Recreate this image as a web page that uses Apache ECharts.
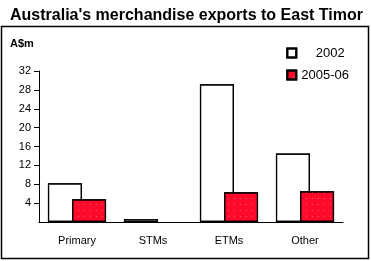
<!DOCTYPE html>
<html><head><meta charset="utf-8">
<script src="https://cdn.jsdelivr.net/npm/echarts@6/dist/echarts.min.js"></script>
<style>html,body{margin:0;padding:0;background:#fff}#c{width:371px;height:261px}</style>
</head><body><div id="c"></div>
<script>
const categories = ['Primary', 'STMs', 'ETMs', 'Other'];
const exports2002 = [8.2, 0.6, 29.2, 14.5];
const exports2005 = [4.8, 0, 6.3, 6.5];
const yTicks = [0, 4, 8, 12, 16, 20, 24, 28, 32];

const chart = echarts.init(document.getElementById('c'), null, {renderer: 'canvas'});
const font = 'Arial, "Liberation Sans", sans-serif';
// zero-valued bars are not drawn in the source (no outline)
const noZero = arr => arr.map(v => (v === 0 ? '-' : v));
chart.setOption({
  animation: false,
  aria: {enabled: true, decal: {show: true}},
  title: {
    text: "Australia's merchandise exports to East Timor",
    left: 5, top: 3,
    textStyle: {fontFamily: font, fontSize: 16, fontWeight: 'bold', color: '#000'}
  },
  graphic: [
    {type: 'rect', shape: {x: 1.5, y: 26.5, width: 367, height: 232}, style: {fill: null, stroke: '#000', lineWidth: 1.5}, z: -1},
    {type: 'text', left: 10, top: 38, style: {text: 'A$m', font: 'bold 11px ' + font, fill: '#000'}}
  ],
  legend: {
    orient: 'vertical',
    right: 17, top: 41,
    itemWidth: 9, itemHeight: 9, itemGap: 8,
    icon: 'rect',
    textStyle: {fontFamily: font, fontSize: 13, color: '#000', lineHeight: 14},
    data: [{name: '2002'}, {name: '2005-06'}],
    formatter: function (n) { return n === '2002' ? '    2002' : n; }
  },
  grid: {left: 39, right: 28, top: 71, bottom: 39, containLabel: false},
  xAxis: {
    type: 'category', data: categories,
    axisLine: {lineStyle: {color: '#000', width: 1}},
    axisTick: {show: false},
    axisLabel: {fontFamily: font, fontSize: 11, color: '#000', margin: 13}
  },
  yAxis: {
    type: 'value', min: yTicks[0], max: yTicks[yTicks.length - 1], interval: 4,
    axisLine: {show: true, lineStyle: {color: '#000', width: 1}},
    axisTick: {show: true, length: 5, lineStyle: {color: '#000'}},
    splitLine: {show: false},
    axisLabel: {fontFamily: font, fontSize: 11, color: '#000', margin: 8, showMinLabel: false,
      formatter: function (v) { return v === 0 ? '' : String(v); }}
  },
  series: [
    {name: '2002', type: 'bar', data: noZero(exports2002), barWidth: 34, barGap: '-29%',
      itemStyle: {color: '#fff', borderColor: '#000', borderWidth: 1.2, decal: {symbol: 'none'}}},
    {name: '2005-06', type: 'bar', data: noZero(exports2005), barWidth: 34,
      itemStyle: {color: '#ff0a2a', borderColor: '#000', borderWidth: 1.2,
        decal: {symbol: 'rect', symbolSize: 1, dashArrayX: [1, 5], dashArrayY: [1, 5], color: 'rgba(255,170,170,0.55)'}}}
  ]
});
</script></body></html>
